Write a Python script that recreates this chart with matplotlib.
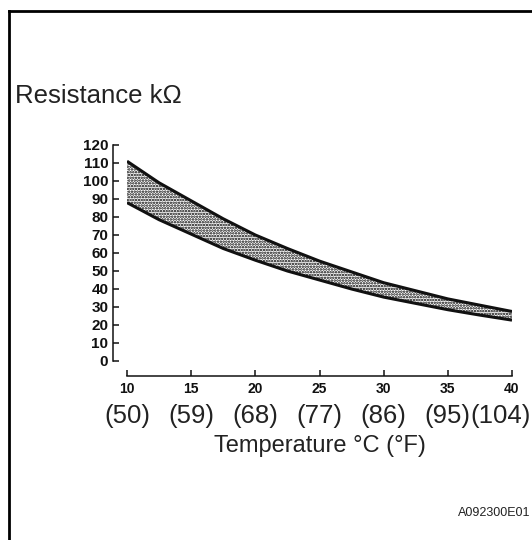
import matplotlib
matplotlib.use("Agg")
import matplotlib.pyplot as plt
from matplotlib.lines import Line2D

# Thermistor resistance band (kΩ) versus temperature (°C)
temp_c = [10, 12.5, 15, 17.5, 20, 22.5, 25, 27.5, 30, 32.5, 35, 37.5, 40]
upper_kohm = [111, 99, 89, 79, 70, 62.5, 55.5, 49.5, 43.5, 39, 34.5, 31, 27.5]
lower_kohm = [88, 78.5, 70.5, 62.5, 56, 50, 45, 40, 35.5, 32, 28.5, 25.5, 22.7]

x_ticks = [10, 15, 20, 25, 30, 35, 40]
y_ticks = [0, 10, 20, 30, 40, 50, 60, 70, 80, 90, 100, 110, 120]
fahrenheit_labels = ["(50)", "(59)", "(68)", "(77)", "(86)", "(95)", "(104)"]

W, H = 532, 540
fig = plt.figure(figsize=(W / 100, H / 100), dpi=100)
fig.patch.set_facecolor("white")

def fx(px):
    return px / W

def fy(py):
    return 1 - py / H

# plot area: data x 10..40 spans px 127..512, y 0..120 spans px 361..145
ax = fig.add_axes([fx(127), fy(361), fx(512) - fx(127), (361 - 145) / H])
ax.set_xlim(10, 40)
ax.set_ylim(0, 120)

plt.rcParams["hatch.linewidth"] = 1.2
ax.fill_between(temp_c, lower_kohm, upper_kohm, facecolor="white",
                edgecolor="#000000", hatch="......", linewidth=0)
ax.plot(temp_c, upper_kohm, color="#111111", lw=2.2, solid_capstyle="butt")
ax.plot(temp_c, lower_kohm, color="#111111", lw=2.2, solid_capstyle="butt")

for s in ("top", "right"):
    ax.spines[s].set_visible(False)
ax.spines["left"].set_position(("outward", 10))
ax.spines["bottom"].set_position(("outward", 10.8))
for s in ("left", "bottom"):
    ax.spines[s].set_linewidth(1.1)
    ax.spines[s].set_color("#111111")

ax.set_xticks(x_ticks)
ax.set_xticklabels([str(v) for v in x_ticks], fontweight="bold",
                   fontsize=10, family="Liberation Sans")
ax.set_yticks(y_ticks)
ax.set_yticklabels([str(v) for v in y_ticks], fontweight="bold",
                   fontsize=11, family="Liberation Sans")
ax.tick_params(axis="x", direction="in", length=4.5, width=1.1, pad=4,
               colors="#111111")
ax.tick_params(axis="y", direction="in", length=4, width=1.1, pad=3.5,
               colors="#111111")

# Fahrenheit equivalents under the Celsius ticks
for i, (tc, lab) in enumerate(zip(x_ticks, fahrenheit_labels)):
    xp = ax.transData.transform((tc, 0))[0] / fig.bbox.width
    if i == len(x_ticks) - 1:
        fig.text(fx(531), fy(416), lab, ha="right", va="center",
                 fontsize=18.5, family="Liberation Sans", color="#222222")
    else:
        fig.text(xp, fy(416), lab, ha="center", va="center",
                 fontsize=18.5, family="Liberation Sans", color="#222222")

fig.text(fx(15), fy(103), "Resistance kΩ", ha="left", va="baseline",
         fontsize=18.5, family="Liberation Sans", color="#222222")
fig.text(fx(320), fy(446), "Temperature °C (°F)", ha="center", va="center",
         fontsize=17, family="Liberation Sans", color="#222222")
fig.text(fx(530), fy(513), "A092300E01", ha="right", va="center",
         fontsize=9, family="Liberation Sans", color="#222222")

# frame lines along the top and left edges
fig.add_artist(Line2D([fx(9), fx(W)], [fy(11), fy(11)], color="black", lw=2,
                      transform=fig.transFigure))
fig.add_artist(Line2D([fx(9), fx(9)], [fy(11), fy(H)], color="black", lw=2,
                      transform=fig.transFigure))

fig.savefig("out.png", dpi=100, facecolor="white")
